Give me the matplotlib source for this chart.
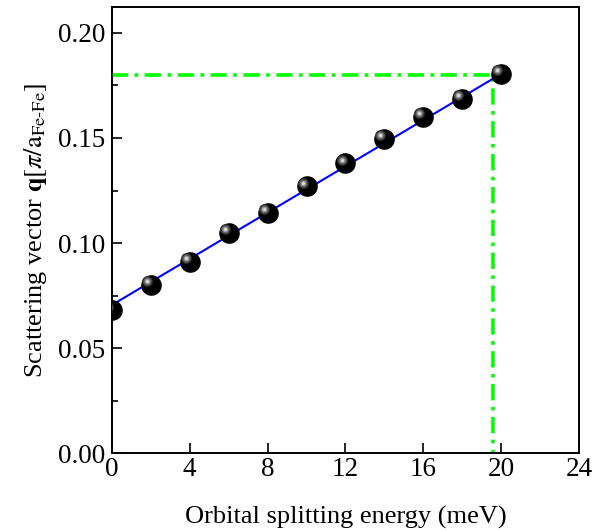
import matplotlib
matplotlib.use("Agg")
import matplotlib.pyplot as plt
import matplotlib.transforms as mtransforms
import numpy as np

plt.rcParams["font.family"] = ["Liberation Serif", "DejaVu Serif"]
plt.rcParams["mathtext.fontset"] = "stix"

# data
energy = [0, 2, 4, 6, 8, 10, 12, 14, 16, 18, 20]
q_vec = [0.068, 0.080, 0.091, 0.105, 0.1145, 0.127, 0.138, 0.1495, 0.160, 0.1686, 0.1805]
fit_x = [0, 20]
fit_y = [0.0705, 0.1805]
guide_x = [0, 19.6, 19.6]
guide_y = [0.18, 0.18, 0.0]

fig = plt.figure(figsize=(5.92, 5.30), dpi=100)
ax = fig.add_axes([0.189, 0.145, 0.789, 0.842])

ax.plot(guide_x, guide_y, color="#00ff00", lw=2.6, dashes=(4.5, 1.8, 1.0, 1.8), zorder=1)
ax.plot(fit_x, fit_y, color="#0000ff", lw=1.5, zorder=2)

# shiny black spheres: black disc + soft grey highlight up-left
ax.scatter(energy, q_vec, s=220, c="black", zorder=3, linewidths=0)
for k, (sz, col) in enumerate([(60, "#333333"), (34, "#5e5e5e"), (16, "#9a9a9a"), (5, "#d8d8d8")]):
    off = mtransforms.offset_copy(ax.transData, fig=fig, x=-2.8, y=2.6, units="points")
    ax.scatter(energy, q_vec, s=sz, c=col, zorder=4 + k, linewidths=0, transform=off)

ax.set_xlim(0, 24)
ax.set_ylim(0, 0.2124)
ax.set_xticks(np.arange(0, 25, 4))
ax.set_yticks([0.0, 0.05, 0.10, 0.15, 0.20])
ax.set_yticklabels(["0.00", "0.05", "0.10", "0.15", "0.20"])
ax.set_yticks([0.025, 0.075, 0.125, 0.175], minor=True)

ax.tick_params(which="both", direction="in", top=False, right=False, labelsize=19.5, width=1.2)
ax.tick_params(which="major", length=7)
ax.tick_params(axis="y", which="major", pad=5)
ax.tick_params(axis="x", which="major", pad=3)
ax.tick_params(which="minor", length=4)
for sp in ax.spines.values():
    sp.set_linewidth(1.4)

ax.set_xlabel("Orbital splitting energy (meV)", fontsize=19, labelpad=17)
ax.set_ylabel(r"Scattering vector $\mathbf{q}[\pi/\mathrm{a}_{\mathrm{Fe\text{-}Fe}}]$", fontsize=19, labelpad=6)

fig.savefig("out.png", dpi=100)
